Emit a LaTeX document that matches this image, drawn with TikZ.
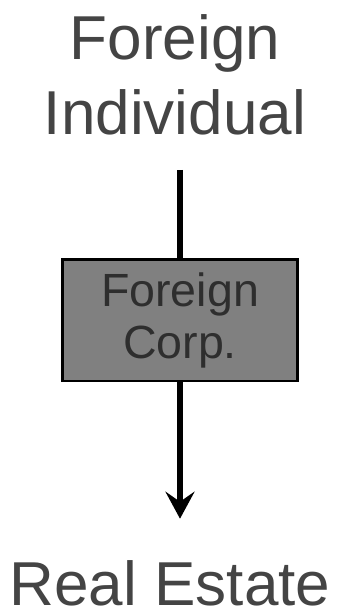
\documentclass[tikz,border=0pt]{standalone}
\usepackage{fontspec}
\setmainfont{Liberation Sans}
\usepackage{tikz}
\usetikzlibrary{arrows.meta}
\usetikzlibrary{positioning}
\definecolor{labelgray}{HTML}{444444}
\definecolor{boxgray}{HTML}{808080}
\definecolor{boxtext}{HTML}{2E2E2E}
\tikzset{
  biglabel/.style={inner sep=0pt, align=center, text=labelgray,
    font=\fontsize{35.3}{42.5}\selectfont},
  entitybox/.style={draw=black, line width=1.7pt, fill=boxgray,
    minimum width=4.72cm, minimum height=2.44cm, inner sep=0pt,
    align=center, text=boxtext, font=\fontsize{26.5}{29.6}\selectfont},
  ownline/.style={line width=3.2pt}
}

\begin{document}
\begin{tikzpicture}[x=0.02cm,y=-0.02cm]

  \useasboundingbox (0,0) rectangle (341,610);

  \node [biglabel, anchor=base] (indiv) at (175,134) {Foreign\\Individual};

  \node [entitybox] (corp) at (180,320) {Foreign\\Corp.};

  \node [biglabel, anchor=base] (estate) at (170,605) {Real Estate};

  %\draw [ownline] (indiv) -- (corp);
  \draw [ownline, shorten <=0.7cm] (indiv.south -| corp.north) -- (corp.north);
  \draw [ownline, -{Stealth[length=0.54cm,width=0.58cm,inset=0.2cm]},
    shorten >=0.82cm] (corp.south) -- (estate.north -| corp.south);

\end{tikzpicture}
\end{document}
